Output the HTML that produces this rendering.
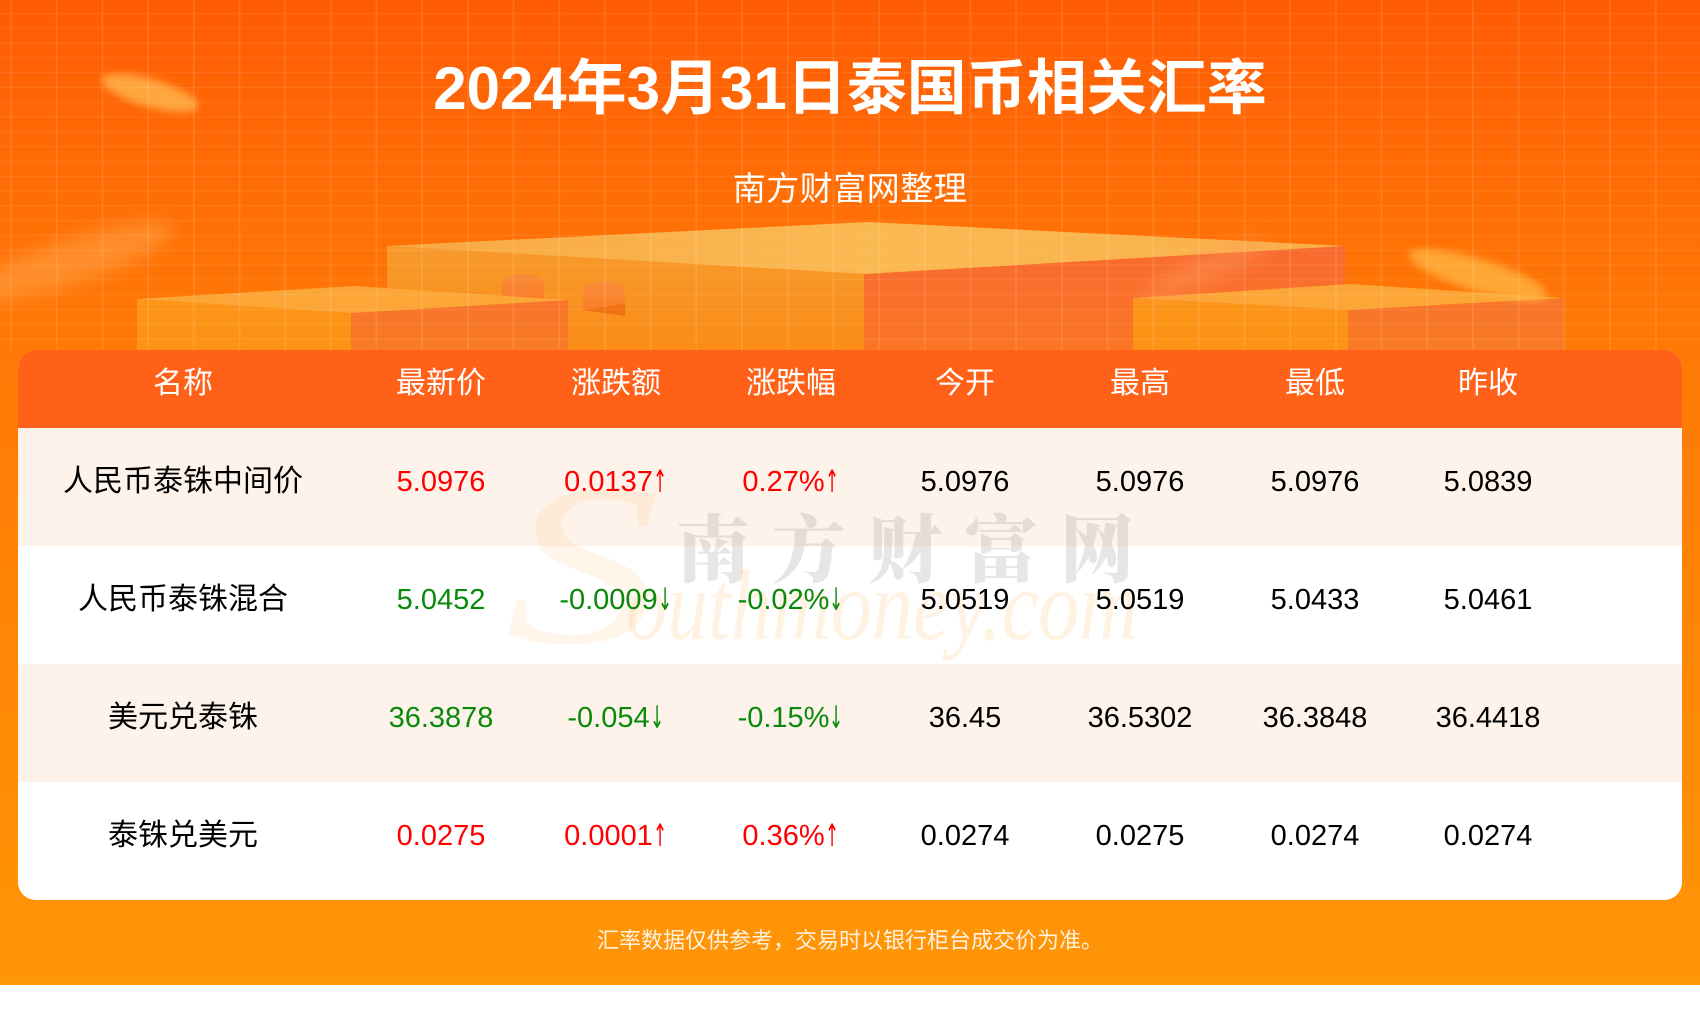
<!DOCTYPE html>
<html lang="zh-CN">
<head>
<meta charset="utf-8">
<title>2024年3月31日泰国币相关汇率</title>
<style>
  html,body{margin:0;padding:0;}
  body{width:1700px;height:1010px;position:relative;overflow:hidden;background:#fff;
       font-family:"Liberation Sans","Noto Sans CJK SC",sans-serif;}
  .bg{position:absolute;left:0;top:0;width:1700px;height:985px;
      background:linear-gradient(180deg,#ff5b04 0px,#ff6a05 150px,#ff7806 330px,#ff8406 600px,#ff9206 900px,#ff9606 985px);}
  .grid{position:absolute;left:0;top:0;width:1700px;height:350px;
      background-image:
        linear-gradient(90deg, rgba(255,255,255,0.10) 0px, rgba(255,255,255,0.10) 2px, transparent 2px),
        linear-gradient(180deg, rgba(255,255,255,0.09) 0px, rgba(255,255,255,0.09) 1px, transparent 1px);
      background-size:45.7px 100%, 100% 14.8px;
      background-position:10px 0, 0 13px;}
  .title{position:absolute;left:0;top:49px;width:1700px;text-align:center;color:#fff;
      font-size:60px;font-weight:bold;line-height:80px;letter-spacing:0px;}
  .sub{position:absolute;left:0;top:169px;width:1700px;text-align:center;color:#fff;
      font-size:33px;line-height:40px;letter-spacing:0.5px;}
  .card{position:absolute;left:18px;top:350px;width:1664px;height:550px;border-radius:18px;overflow:hidden;background:#fff;}
  .hdr{position:absolute;left:0;top:0;width:1664px;height:78px;background:#ff6118;}
  .row{position:absolute;left:0;width:1664px;height:118px;}
  .cream{background:#fdf3ea;}
  .white{background:#fff;}
  .cell{position:absolute;width:240px;text-align:center;white-space:nowrap;}
  .h{top:350px;height:68px;line-height:68px;color:#fff;font-size:30px;}
  .t{height:108px;line-height:108px;font-size:29px;color:#000;}
  .nm{font-size:30px;}
  .r{color:#ff0000;}
  .g{color:#0a8a0a;}
  .ar{display:inline-block;font-family:"DejaVu Sans",sans-serif;font-size:31px;line-height:30px;
      transform:scaleX(0.55);transform-origin:0 50%;margin-right:-11px;vertical-align:baseline;position:relative;top:1px;}
  .foot{position:absolute;left:0;top:926px;width:1700px;text-align:center;color:#fff2e0;font-size:22px;line-height:30px;}
  .wm1{position:absolute;left:676px;top:500px;font-family:"Noto Serif CJK SC","Noto Sans CJK SC",serif;font-weight:900;
       font-size:74px;line-height:90px;letter-spacing:22px;color:rgba(110,100,95,0.16);white-space:nowrap;}
  .wm2{position:absolute;left:626px;top:556px;font-family:"Liberation Serif",serif;font-style:italic;font-size:100px;line-height:100px;
       color:rgba(255,165,60,0.14);transform:scaleX(0.82);transform-origin:0 0;white-space:nowrap;}
  .wmS{position:absolute;left:505px;top:450px;font-family:"Liberation Serif",serif;font-style:italic;font-size:230px;line-height:230px;
       color:rgba(255,165,60,0.11);transform:scaleX(1.35);transform-origin:0 0;}
</style>
</head>
<body>
<div class="bg"></div>

<svg width="1700" height="360" style="position:absolute;left:0;top:0;" xmlns="http://www.w3.org/2000/svg">
  <defs>
    <filter id="b4" x="-50%" y="-50%" width="200%" height="200%"><feGaussianBlur stdDeviation="4"/></filter>
    <filter id="b8" x="-50%" y="-50%" width="200%" height="200%"><feGaussianBlur stdDeviation="9"/></filter>
    <linearGradient id="topBig" x1="0" y1="0" x2="1" y2="0">
      <stop offset="0" stop-color="#f9a843"/><stop offset="0.5" stop-color="#fbb951"/><stop offset="1" stop-color="#f9b04a"/>
    </linearGradient>
    <linearGradient id="leftFace" x1="0" y1="0" x2="0" y2="1">
      <stop offset="0" stop-color="#f79a2c"/><stop offset="1" stop-color="#fb8c16"/>
    </linearGradient>
    <linearGradient id="rightFace" x1="0" y1="0" x2="0" y2="1">
      <stop offset="0" stop-color="#f86b30"/><stop offset="1" stop-color="#fa7524"/>
    </linearGradient>
    <linearGradient id="smallLeft" x1="0" y1="0" x2="0" y2="1">
      <stop offset="0" stop-color="#fd9519"/><stop offset="1" stop-color="#fd9214"/>
    </linearGradient>
    <linearGradient id="smallRight" x1="0" y1="0" x2="0" y2="1">
      <stop offset="0" stop-color="#f8742b"/><stop offset="1" stop-color="#f97a24"/>
    </linearGradient>
    <linearGradient id="arch" x1="0" y1="0" x2="0" y2="1">
      <stop offset="0" stop-color="#fb8d38"/><stop offset="1" stop-color="#fa7a25"/>
    </linearGradient>
  </defs>

  <!-- blurred coins / streaks -->
  <ellipse cx="150" cy="93" rx="50" ry="14" fill="#ffb24a" opacity="0.85" transform="rotate(16 150 93)" filter="url(#b4)"/>
  <ellipse cx="70" cy="262" rx="110" ry="22" fill="#ffa54a" opacity="0.55" transform="rotate(-18 70 262)" filter="url(#b8)"/>

  <!-- big middle block -->
  <polygon points="387,246 864,274 864,350 387,350" fill="url(#leftFace)"/>
  <polygon points="864,274 1345,246 1345,350 864,350" fill="url(#rightFace)"/>
  <polygon points="387,246 868,222 1345,246 864,274" fill="url(#topBig)"/>
  <!-- arches -->
  <path d="M502,298 L502,286 Q502,274 523,274 Q544,274 544,286 L544,300 Z" fill="url(#arch)"/>
  <path d="M583,310 L583,293 Q583,281 604,281 Q625,281 625,293 L625,316 Z" fill="url(#arch)"/>
  <polygon points="583,310 625,304 625,316" fill="#f07012"/>

  <!-- left small block -->
  <polygon points="137,299 351,313 351,350 137,350" fill="url(#smallLeft)"/>
  <polygon points="351,313 568,300 568,350 351,350" fill="url(#smallRight)"/>
  <polygon points="137,299 354,286 568,300 351,313" fill="#fca637"/>

  <!-- right small block -->
  <polygon points="1133,298 1348,310 1348,350 1133,350" fill="url(#smallLeft)"/>
  <polygon points="1348,310 1564,298 1564,350 1348,350" fill="url(#smallRight)"/>
  <polygon points="1133,298 1350,284 1564,298 1348,310" fill="#fca637"/>

  <!-- streaks over blocks -->
  <ellipse cx="1205" cy="270" rx="70" ry="13" fill="#ff9a55" opacity="0.45" transform="rotate(-24 1205 270)" filter="url(#b8)"/>
  <ellipse cx="1478" cy="275" rx="72" ry="16" fill="#ffb440" opacity="0.8" transform="rotate(17 1478 275)" filter="url(#b4)"/>
</svg>

<div class="grid"></div>

<div class="title">2024年3月31日泰国币相关汇率</div>
<div class="sub">南方财富网整理</div>

<div class="card">
  <div class="hdr"></div>
  <div class="row cream" style="top:78px;"></div>
  <div class="row white" style="top:196px;"></div>
  <div class="row cream" style="top:314px;"></div>
  <div class="row white" style="top:432px;"></div>
</div>

<!-- watermark -->
<div class="wmS">S</div>
<div class="wm1">南方财富网</div>
<div class="wm2">outhmoney.com</div>

<!-- header -->
<div class="cell h" style="left:63px;">名称</div>
<div class="cell h" style="left:321px;">最新价</div>
<div class="cell h" style="left:496px;">涨跌额</div>
<div class="cell h" style="left:671px;">涨跌幅</div>
<div class="cell h" style="left:845px;">今开</div>
<div class="cell h" style="left:1020px;">最高</div>
<div class="cell h" style="left:1195px;">最低</div>
<div class="cell h" style="left:1368px;">昨收</div>

<!-- row 1 -->
<div class="cell t nm" style="left:63px;top:428px;">人民币泰铢中间价</div>
<div class="cell t r" style="left:321px;top:428px;">5.0976</div>
<div class="cell t r" style="left:496px;top:428px;">0.0137<span class="ar">↑</span></div>
<div class="cell t r" style="left:671px;top:428px;">0.27%<span class="ar">↑</span></div>
<div class="cell t" style="left:845px;top:428px;">5.0976</div>
<div class="cell t" style="left:1020px;top:428px;">5.0976</div>
<div class="cell t" style="left:1195px;top:428px;">5.0976</div>
<div class="cell t" style="left:1368px;top:428px;">5.0839</div>

<!-- row 2 -->
<div class="cell t nm" style="left:63px;top:546px;">人民币泰铢混合</div>
<div class="cell t g" style="left:321px;top:546px;">5.0452</div>
<div class="cell t g" style="left:496px;top:546px;">-0.0009<span class="ar">↓</span></div>
<div class="cell t g" style="left:671px;top:546px;">-0.02%<span class="ar">↓</span></div>
<div class="cell t" style="left:845px;top:546px;">5.0519</div>
<div class="cell t" style="left:1020px;top:546px;">5.0519</div>
<div class="cell t" style="left:1195px;top:546px;">5.0433</div>
<div class="cell t" style="left:1368px;top:546px;">5.0461</div>

<!-- row 3 -->
<div class="cell t nm" style="left:63px;top:664px;">美元兑泰铢</div>
<div class="cell t g" style="left:321px;top:664px;">36.3878</div>
<div class="cell t g" style="left:496px;top:664px;">-0.054<span class="ar">↓</span></div>
<div class="cell t g" style="left:671px;top:664px;">-0.15%<span class="ar">↓</span></div>
<div class="cell t" style="left:845px;top:664px;">36.45</div>
<div class="cell t" style="left:1020px;top:664px;">36.5302</div>
<div class="cell t" style="left:1195px;top:664px;">36.3848</div>
<div class="cell t" style="left:1368px;top:664px;">36.4418</div>

<!-- row 4 -->
<div class="cell t nm" style="left:63px;top:782px;">泰铢兑美元</div>
<div class="cell t r" style="left:321px;top:782px;">0.0275</div>
<div class="cell t r" style="left:496px;top:782px;">0.0001<span class="ar">↑</span></div>
<div class="cell t r" style="left:671px;top:782px;">0.36%<span class="ar">↑</span></div>
<div class="cell t" style="left:845px;top:782px;">0.0274</div>
<div class="cell t" style="left:1020px;top:782px;">0.0275</div>
<div class="cell t" style="left:1195px;top:782px;">0.0274</div>
<div class="cell t" style="left:1368px;top:782px;">0.0274</div>

<div class="foot">汇率数据仅供参考，交易时以银行柜台成交价为准。</div>
</body>
</html>
